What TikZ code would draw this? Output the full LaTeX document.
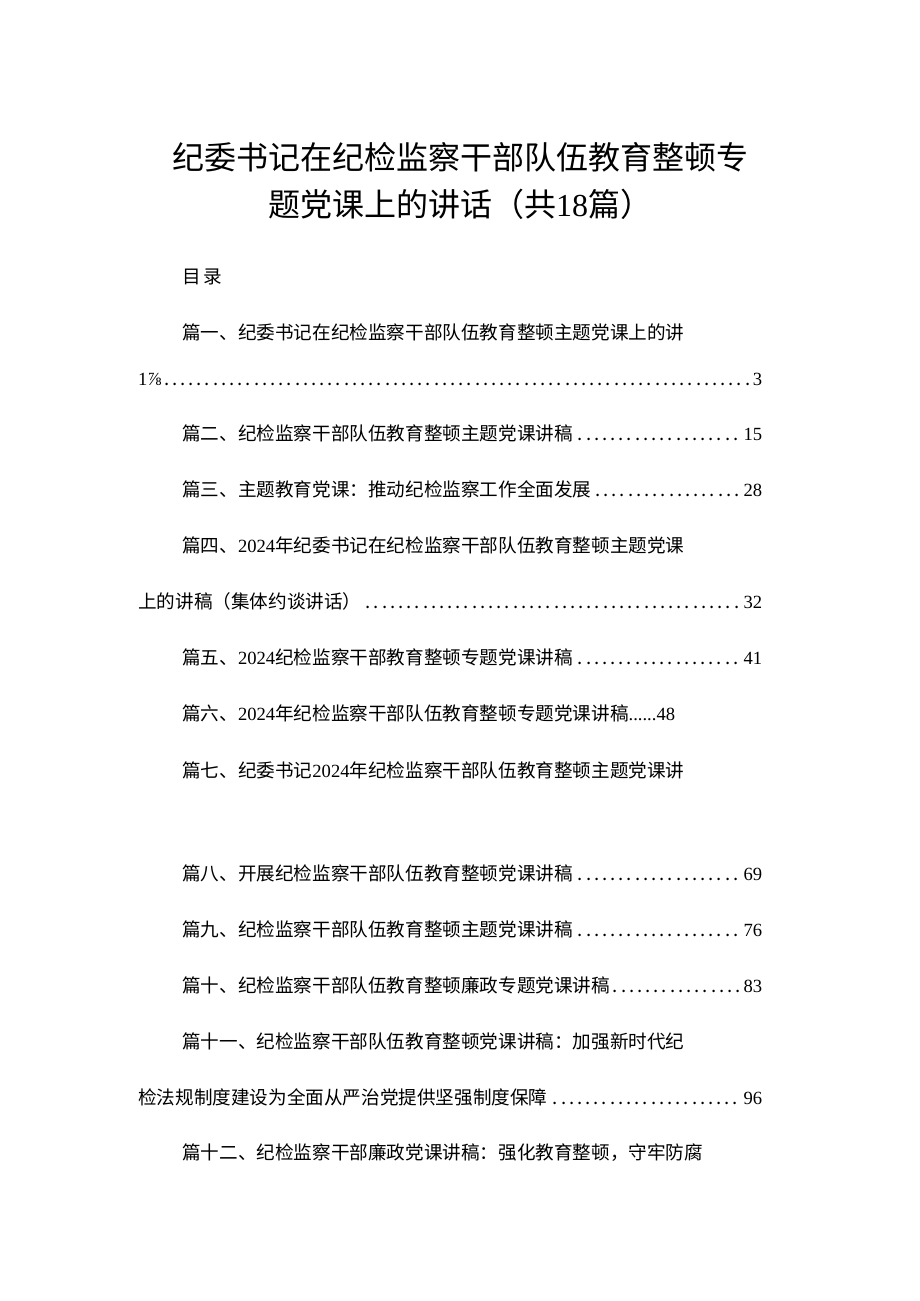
\documentclass[tikz,border=0pt]{standalone}
\usepackage{fontspec}
\setmainfont{Liberation Serif}
\newfontfamily\cjk{Noto Sans CJK SC}
\newcommand{\lt}[1]{{\rmfamily #1}}
\begin{document}
\begin{tikzpicture}[x=1pt,y=1pt,
  ttl/.style={font=\cjk\fontsize{32}{36}\selectfont,anchor=center,inner sep=0},
  ent/.style={font=\cjk\fontsize{18.6}{22}\selectfont,anchor=west,inner sep=0},
  lead/.style={ent,text width=#1pt,align=left}]
\useasboundingbox (0,0) rectangle (920,-1301);
\fill[white] (0,0) rectangle (920,-1301);
\node[ttl] (t1) at (460,-157) {纪委书记在纪检监察干部队伍教育整顿专};
\node[ttl] (t2) at (460,-204) {题党课上的讲话（共\lt{18}篇）};
\node[ent] (ml) at (182,-277) {目\,录};
\node[ent] (e1) at (182,-332) {篇一、纪委书记在纪检监察干部队伍教育整顿主题党课上的讲};
\node[lead=624] (e1b) at (138,-379) {\lt{1⅞}\dotfill\lt{3}};
\node[lead=580] (e2) at (182,-433) {篇二、纪检监察干部队伍教育整顿主题党课讲稿\dotfill\lt{15}};
\node[lead=580] (e3) at (182,-489) {篇三、主题教育党课：推动纪检监察工作全面发展\dotfill\lt{28}};
\node[ent] (e4) at (182,-545) {篇四、\lt{2024}年纪委书记在纪检监察干部队伍教育整顿主题党课};
\node[lead=624] (e4b) at (138,-601) {上的讲稿（集体约谈讲话）\dotfill\lt{32}};
\node[lead=580] (e5) at (182,-657) {篇五、\lt{2024}纪检监察干部教育整顿专题党课讲稿\dotfill\lt{41}};
\node[ent] (e6) at (182,-713) {篇六、\lt{2024}年纪检监察干部队伍教育整顿专题党课讲稿\lt{......48}};
\node[ent] (e7) at (182,-770) {篇七、纪委书记\lt{2024}年纪检监察干部队伍教育整顿主题党课讲};
\node[lead=580] (e8) at (182,-873) {篇八、开展纪检监察干部队伍教育整顿党课讲稿\dotfill\lt{69}};
\node[lead=580] (e9) at (182,-929) {篇九、纪检监察干部队伍教育整顿主题党课讲稿\dotfill\lt{76}};
\node[lead=580] (e10) at (182,-985) {篇十、纪检监察干部队伍教育整顿廉政专题党课讲稿\dotfill\lt{83}};
\node[ent] (e11) at (182,-1041) {篇十一、纪检监察干部队伍教育整顿党课讲稿：加强新时代纪};
\node[lead=624] (e11b) at (138,-1097) {检法规制度建设为全面从严治党提供坚强制度保障\dotfill\lt{96}};
\node[ent] (e12) at (182,-1153) {篇十二、纪检监察干部廉政党课讲稿：强化教育整顿，守牢防腐};
\end{tikzpicture}
\end{document}
